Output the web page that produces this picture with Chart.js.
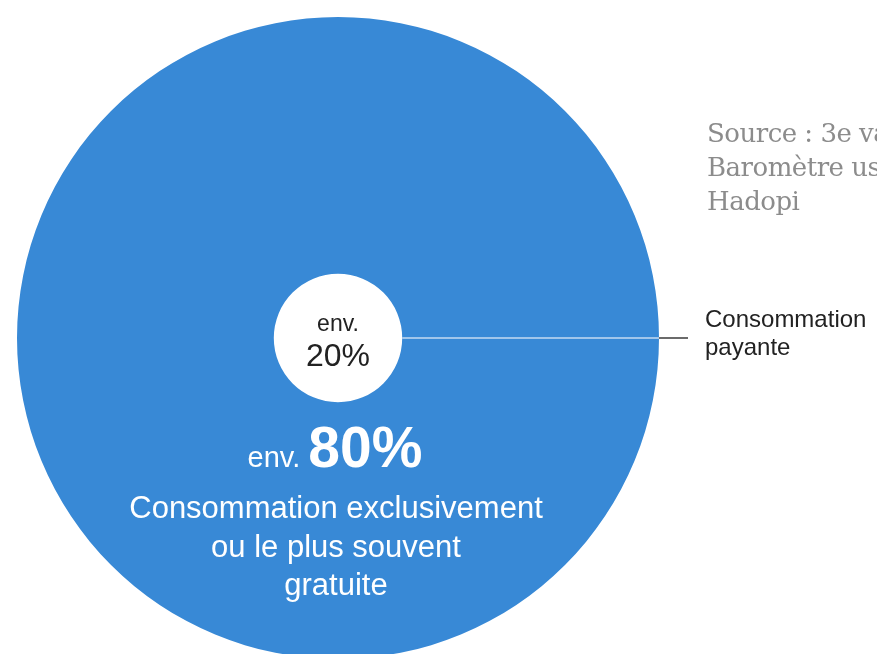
<!DOCTYPE html>
<html>
<head>
<meta charset="utf-8">
<script src="https://cdn.jsdelivr.net/npm/chart.js@4.4.0/dist/chart.umd.min.js"></script>
<style>
  html, body { margin: 0; padding: 0; background: #fff; overflow: hidden; }
  #wrap { width: 877px; height: 680px; }
</style>
</head>
<body>
<div id="wrap"><canvas id="chart1" width="877" height="680"></canvas></div>
<script>
// parts de la consommation (en %)
const categories = ['Consommation exclusivement ou le plus souvent gratuite', 'Consommation payante'];
const shares = [80, 20];

// textes
const bigLines = ['Consommation exclusivement', 'ou le plus souvent', 'gratuite'];
const smallLines = ['Consommation', 'payante'];
const sourceLines = ['Source : 3e vague du', 'Baromètre usages', 'Hadopi'];

const blue = '#3889d6';

// labels dessinés par-dessus les cercles
const labelPlugin = {
  id: 'labels',
  afterDraw(chart) {
    const ctx = chart.ctx;
    const outer = chart.getDatasetMeta(0).data[0];
    const inner = chart.getDatasetMeta(1).data[0];
    const cx = outer.x, cy = outer.y;
    ctx.save();
    ctx.textBaseline = 'alphabetic';

    // trait vers le label de droite
    ctx.lineWidth = 1.5;
    ctx.strokeStyle = '#c4dbf2';
    ctx.beginPath();
    ctx.moveTo(cx + inner.outerRadius, cy);
    ctx.lineTo(cx + outer.outerRadius, cy);
    ctx.stroke();
    ctx.strokeStyle = '#3a3a3a';
    ctx.beginPath();
    ctx.moveTo(cx + outer.outerRadius, cy);
    ctx.lineTo(688, cy);
    ctx.stroke();

    // petit cercle
    ctx.fillStyle = '#222';
    ctx.textAlign = 'center';
    ctx.font = '23px "Liberation Sans", Arial, sans-serif';
    ctx.fillText('env.', cx, cy - 7);
    ctx.font = '32px "Liberation Sans", Arial, sans-serif';
    ctx.fillText(shares[1] + '%', cx, cy + 28);

    // grand cercle
    ctx.fillStyle = '#fff';
    const a = 'env. ';
    const b = shares[0] + '%';
    ctx.font = '29px "Liberation Sans", Arial, sans-serif';
    const wa = ctx.measureText(a).width;
    ctx.font = 'bold 57px "Liberation Sans", Arial, sans-serif';
    const wb = ctx.measureText(b).width;
    let x0 = cx - 3 - (wa + wb) / 2;
    ctx.textAlign = 'left';
    ctx.font = '29px "Liberation Sans", Arial, sans-serif';
    ctx.fillText(a, x0, cy + 129);
    ctx.font = 'bold 57px "Liberation Sans", Arial, sans-serif';
    ctx.fillText(b, x0 + wa, cy + 129);

    ctx.textAlign = 'center';
    ctx.font = '31px "Liberation Sans", Arial, sans-serif';
    bigLines.forEach((t, i) => ctx.fillText(t, cx - 2, cy + 180 + i * 38.5));

    // label de droite
    ctx.textAlign = 'left';
    ctx.fillStyle = '#222';
    ctx.font = '24px "Liberation Sans", Arial, sans-serif';
    smallLines.forEach((t, i) => ctx.fillText(t, 705, cy - 11 + i * 28));

    // source
    ctx.fillStyle = '#8c8c8c';
    ctx.font = '26px "DejaVu Serif", serif';
    ctx.letterSpacing = '-0.5px';
    sourceLines.forEach((t, i) => ctx.fillText(t, 707, 142 + i * 34));

    ctx.restore();
  }
};

const data1 = {
  labels: [categories[0]],
  datasets: [
    {
      label: categories[0],
      data: [shares[0]],
      weight: shares[0],
      backgroundColor: blue,
      borderWidth: 0
    },
    {
      label: categories[1],
      data: [shares[1]],
      weight: shares[1],
      backgroundColor: '#ffffff',
      borderWidth: 0
    }
  ]
};

const config1 = {
  type: 'pie',
  data: data1,
  options: {
    responsive: false,
    animation: false,
    layout: {
      padding: { left: 17, right: 218, top: 17, bottom: 21 }
    },
    plugins: {
      legend: { display: false },
      tooltip: { enabled: false }
    }
  },
  plugins: [labelPlugin]
};

const myChart1 = new Chart(
  document.getElementById('chart1'),
  config1
);
</script>
</body>
</html>
